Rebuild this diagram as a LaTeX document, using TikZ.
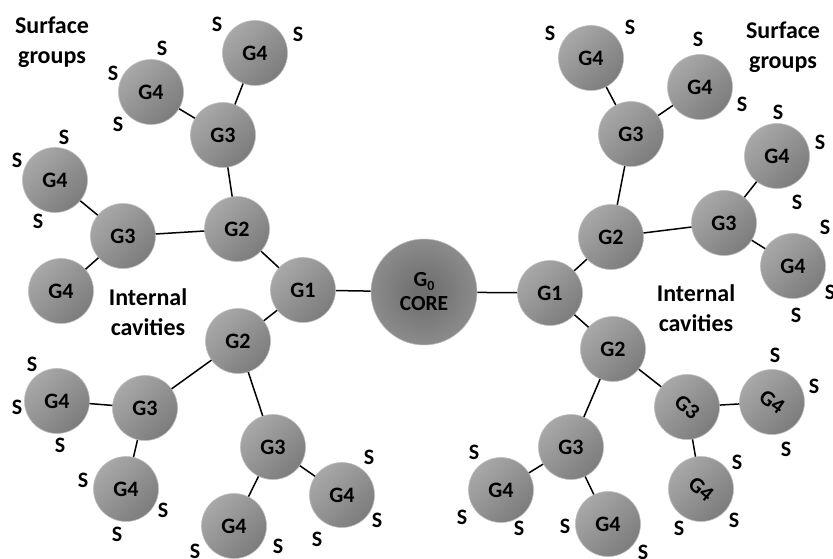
\documentclass[tikz,border=0pt]{standalone}
\usepackage{fontspec}
\setmainfont{Carlito}
\definecolor{ballLight}{RGB}{168,168,168}
\definecolor{ballDark}{RGB}{124,124,124}
\definecolor{ballEdge}{RGB}{190,190,190}
\definecolor{coreIn}{RGB}{112,112,112}
\definecolor{coreOut}{RGB}{172,172,172}
\pgfdeclareradialshading{coreshade}{\pgfpoint{0bp}{0bp}}{color(0bp)=(coreIn); color(4bp)=(coreIn); color(50bp)=(coreOut)}
\tikzset{
  ball/.style={circle, minimum size=65pt, inner sep=0pt, shading=axis,
    top color=ballLight, bottom color=ballDark, shading angle=45,
    draw=ballEdge, line width=0.6pt, font=\fontsize{22}{24}\selectfont\bfseries},
  coreball/.style={circle, minimum size=106pt, inner sep=0pt, shading=coreshade,
    draw=ballEdge, line width=0.6pt, align=center,
    font=\fontsize{21.5}{24}\selectfont\bfseries},
  slabel/.style={inner sep=0pt, font=\fontsize{22}{24}\selectfont\bfseries},
  caption/.style={align=center, inner sep=0pt, font=\fontsize{24}{30}\selectfont\bfseries},
  bond/.style={line width=1.5pt, black}
}
\begin{document}
\begin{tikzpicture}[x=1pt, y=-1pt]
\useasboundingbox (0,0) rectangle (833,559);

% core
\node[coreball] (core) at (424,292) {G\raisebox{-0.3ex}{\fontsize{14}{14}\selectfont 0}\\CORE};

% left half
\node[ball] (L1)   at (303,290) {G1};
\node[ball] (L2a)  at (237,229) {G2};
\node[ball] (L2b)  at (238,341) {G2};
\node[ball] (L3a)  at (223,135) {G3};
\node[ball] (L3b)  at (123,236) {G3};
\node[ball] (L3c)  at (145,408) {G3};
\node[ball] (L3d)  at (273,447) {G3};
\node[ball] (L4a)  at (255,53)  {G4};
\node[ball] (L4b)  at (151,92)  {G4};
\node[ball] (L4c)  at (55,180)  {G4};
\node[ball] (L4d)  at (61,291)  {G4};
\node[ball] (L4e)  at (57,401)  {G4};
\node[ball] (L4f)  at (126,489) {G4};
\node[ball] (L4g)  at (234,526) {G4};
\node[ball] (L4h)  at (342,495) {G4};

% right half
\node[ball] (R1)   at (550,293) {G1};
\node[ball] (R2a)  at (611,237) {G2};
\node[ball] (R2b)  at (613,349) {G2};
\node[ball] (R3a)  at (631,134) {G3};
\node[ball] (R3b)  at (724,223) {G3};
\node[ball] (R3c)  at (571,447) {G3};
\node[ball] (R3d)  at (687,407) {\rotatebox{-40}{G3}};
\node[ball] (R4a)  at (591,58)  {G4};
\node[ball] (R4b)  at (700,87)  {G4};
\node[ball] (R4c)  at (777,156) {G4};
\node[ball] (R4d)  at (793,266) {G4};
\node[ball] (R4e)  at (501,490) {G4};
\node[ball] (R4f)  at (608,524) {G4};
\node[ball] (R4g)  at (772,402) {\rotatebox{-35}{G4}};
\node[ball] (R4h)  at (701,489) {\rotatebox{-40}{G4}};

% bonds
\draw[bond] (core) -- (L1);
\draw[bond] (L1) -- (L2a);
\draw[bond] (L1) -- (L2b);
\draw[bond] (L2a) -- (L3a);
\draw[bond] (L2a) -- (L3b);
\draw[bond] (L3a) -- (L4a);
\draw[bond] (L3a) -- (L4b);
\draw[bond] (L3b) -- (L4c);
\draw[bond] (L3b) -- (L4d);
\draw[bond] (L2b) -- (L3c);
\draw[bond] (L2b) -- (L3d);
\draw[bond] (L3c) -- (L4e);
\draw[bond] (L3c) -- (L4f);
\draw[bond] (L3d) -- (L4g);
\draw[bond] (L3d) -- (L4h);
\draw[bond] (core) -- (R1);
\draw[bond] (R1) -- (R2a);
\draw[bond] (R1) -- (R2b);
\draw[bond] (R2a) -- (R3a);
\draw[bond] (R2a) -- (R3b);
\draw[bond] (R3a) -- (R4a);
\draw[bond] (R3a) -- (R4b);
\draw[bond] (R3b) -- (R4c);
\draw[bond] (R3b) -- (R4d);
\draw[bond] (R2b) -- (R3c);
\draw[bond] (R2b) -- (R3d);
\draw[bond] (R3c) -- (R4e);
\draw[bond] (R3c) -- (R4f);
\draw[bond] (R3d) -- (R4g);
\draw[bond] (R3d) -- (R4h);

% captions
\node[caption] (capSL) at (52,42)  {Surface\\groups};
\node[caption] (capSR) at (783,47) {Surface\\groups};
\node[caption] (capIL) at (148,312) {Internal\\cavities};
\node[caption] (capIR) at (696,308) {Internal\\cavities};

% surface groups, upper left
\node[slabel] (s1)  at (217,24)  {S};
\node[slabel] (s2)  at (298,34)  {S};
\node[slabel] (s3)  at (162,48)  {S};
\node[slabel] (s4)  at (113,73)  {S};
\node[slabel] (s5)  at (118,124) {S};
\node[slabel] (s6)  at (64,137)  {S};
\node[slabel] (s7)  at (17,160)  {S};
\node[slabel] (s8)  at (38,221)  {S};
% lower left
\node[slabel] (s9)  at (32,364)  {S};
\node[slabel] (s10) at (17,407)  {S};
\node[slabel] (s11) at (60,445)  {S};
\node[slabel] (s12) at (83,480)  {S};
\node[slabel] (s13) at (163,510) {S};
\node[slabel] (s14) at (117,534) {S};
\node[slabel] (s15) at (195,551) {S};
\node[slabel] (s16) at (278,546) {S};
\node[slabel] (s17) at (317,539) {S};
\node[slabel] (s18) at (377,520) {S};
\node[slabel] (s19) at (369,457) {S};
% upper right
\node[slabel] (s20) at (550,33)  {S};
\node[slabel] (s21) at (630,27)  {S};
\node[slabel] (s22) at (698,39)  {S};
\node[slabel] (s23) at (742,104) {S};
\node[slabel] (s24) at (778,112) {S};
\node[slabel] (s25) at (820,142) {S};
\node[slabel] (s26) at (797,202) {S};
\node[slabel] (s27) at (825,227) {S};
\node[slabel] (s28) at (830,292) {S};
\node[slabel] (s29) at (796,315) {S};
% lower right
\node[slabel] (s30) at (775,355) {S};
\node[slabel] (s31) at (814,386) {S};
\node[slabel] (s32) at (786,449) {S};
\node[slabel] (s33) at (737,462) {S};
\node[slabel] (s34) at (734,520) {S};
\node[slabel] (s35) at (679,528) {S};
\node[slabel] (s36) at (565,526) {S};
\node[slabel] (s37) at (643,552) {S};
\node[slabel] (s38) at (474,452) {S};
\node[slabel] (s39) at (462,517) {S};
\node[slabel] (s40) at (519,528) {S};
\end{tikzpicture}
\end{document}
